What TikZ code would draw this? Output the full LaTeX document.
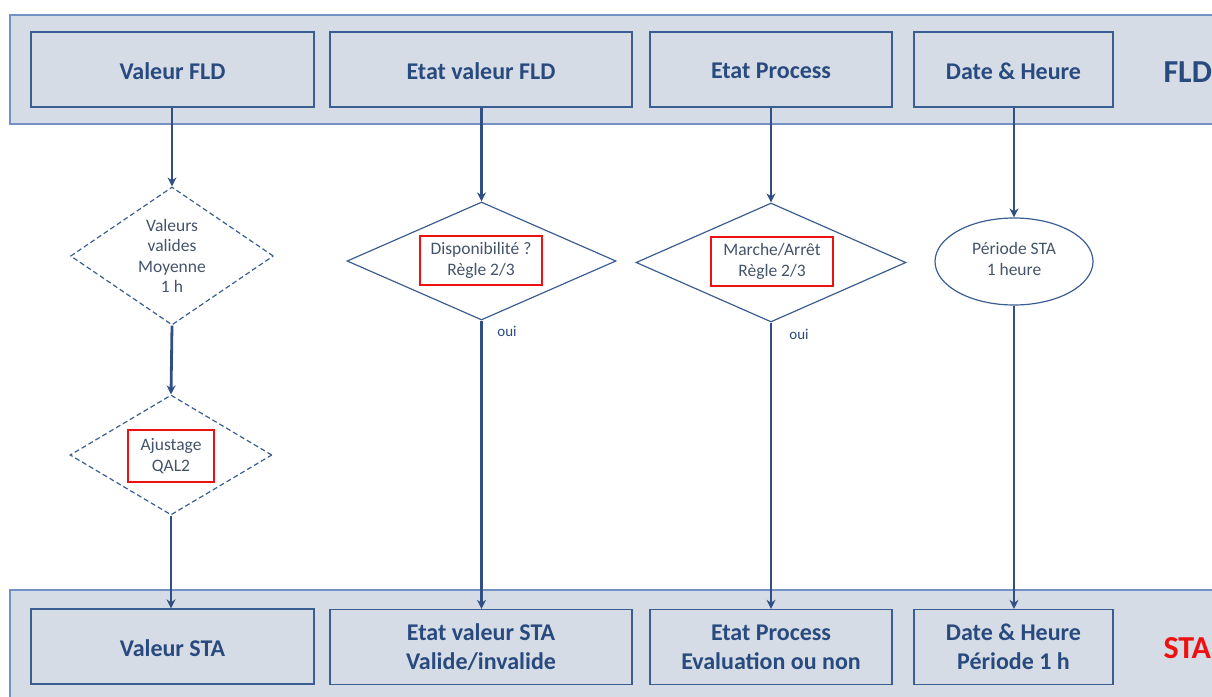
\documentclass[tikz,border=0pt]{standalone}
\usepackage{fontspec}
\setmainfont{Carlito}
\usetikzlibrary{shapes.geometric,arrows.meta}
\definecolor{bandfill}{HTML}{D6DCE5}
\definecolor{bandline}{HTML}{7391C4}
\definecolor{boxline}{HTML}{3B5E92}
\definecolor{boxtext}{HTML}{284A7E}
\definecolor{smalltext}{HTML}{44546A}
\definecolor{arrowcol}{HTML}{2F4F85}
\definecolor{redbox}{HTML}{EE1111}
\tikzset{
  band/.style={draw=bandline, fill=bandfill, line width=1.2pt},
  fldbox/.style={draw=boxline, line width=1.3pt, fill=bandfill, minimum height=75pt, inner sep=0pt,
    text=boxtext, font=\fontsize{24}{29}\selectfont\bfseries, align=center},
  onetext/.style={label={[text=boxtext, font=\fontsize{24}{29}\selectfont\bfseries, anchor=base, yshift=-1.5pt]center:#1}},
  decis/.style={diamond, draw=boxline, line width=1.2pt, inner sep=0pt, fill=white},
  dashdecis/.style={decis, dashed, dash pattern=on 5pt off 3pt},
  small/.style={text=smalltext, font=\fontsize{17.5}{20.5}\selectfont, align=center},
  redframe/.style={draw=redbox, line width=2pt, inner sep=0pt},
  flow/.style={draw=arrowcol, line width=2.8pt, -{Stealth[length=9pt,width=9pt]}},
  ouilabel/.style={text=boxtext, font=\fontsize{15}{16}\selectfont},
}
\begin{document}
\begin{tikzpicture}[x=1pt,y=-1pt]
\useasboundingbox (0,0) rectangle (1212,696);
% bands
\path[band] (10,15) rectangle (1230,124);
\path[band] (10,590) rectangle (1230,710);
% top boxes
\node[fldbox, minimum width=283pt, onetext={Valeur FLD}] (vfld) at (172.5,69.5) {};
\node[fldbox, minimum width=302pt, onetext={Etat valeur FLD}] (efld) at (481,69.5) {};
\node[fldbox, minimum width=242pt, onetext={Etat Process}] (pfld) at (771,69.5) {};
\node[fldbox, minimum width=199pt, onetext={Date \& Heure}] (dfld) at (1013.5,69.5) {};
\node[text=boxtext, font=\fontsize{32}{34}\selectfont\bfseries, anchor=west] (fldlab) at (1160,72) {FLD};
% bottom boxes
\node[fldbox, minimum width=283pt, onetext={Valeur STA}] (vsta) at (172.5,646.5) {};
\node[fldbox, minimum width=302pt] (esta) at (481,647) {Etat valeur STA\\Valide/invalide};
\node[fldbox, minimum width=242pt] (psta) at (771,647) {Etat Process\\Evaluation ou non};
\node[fldbox, minimum width=199pt] (dsta) at (1013.5,647) {Date \& Heure\\Période 1 h};
\node[text=redbox, font=\fontsize{32}{34}\selectfont\bfseries, anchor=west] (stalab) at (1160,648) {STA};
% decisions
\node[dashdecis, minimum width=203pt, minimum height=138pt] (d1) at (172,256) {};
\node[small] (t1) at (172,256) {Valeurs\\valides\\Moyenne\\1 h};
\node[dashdecis, minimum width=202pt, minimum height=120pt] (d2) at (171,455) {};
\node[redframe, minimum width=86pt, minimum height=52pt] (r2) at (171,456) {};
\node[small] (t2) at (171,456) {Ajustage\\QAL2};
\node[decis, minimum width=269pt, minimum height=118pt] (d3) at (481.5,261) {};
\node[redframe, minimum width=122pt, minimum height=49pt] (r3) at (481,260.5) {};
\node[small] (t3) at (481,260.5) {Disponibilité ?\\Règle 2/3};
\node[decis, minimum width=270pt, minimum height=119pt] (d4) at (771,262.5) {};
\node[redframe, minimum width=122pt, minimum height=49pt] (r4) at (772,261.5) {};
\node[small] (t4) at (772,261.5) {Marche/Arrêt\\Règle 2/3};
\node[ellipse, draw=boxline, line width=1.2pt, minimum width=158pt, minimum height=87pt, inner sep=0pt] (el) at (1014,261.5) {};
\node[small] (t5) at (1014,259) {Période STA\\1 heure};
% arrows
\draw[flow] (vfld.south -| d1.north) -- (d1.north);
\draw[flow] (d1.south) -- (d2.north);
\draw[flow] (d2.south) -- (vsta.north -| d2.south);
\draw[flow] (efld.south -| d3.north) -- (d3.north);
\draw[flow] (d3.south) -- (esta.north -| d3.south);
\draw[flow] (pfld.south -| d4.north) -- (d4.north);
\draw[flow] (d4.south) -- (psta.north -| d4.south);
\draw[flow] (dfld.south -| el.north) -- (el.north);
\draw[flow] (el.south) -- (dsta.north -| el.south);
\node[ouilabel] (o1) at (507,331) {oui};
\node[ouilabel] (o2) at (799,334) {oui};
\end{tikzpicture}
\end{document}
